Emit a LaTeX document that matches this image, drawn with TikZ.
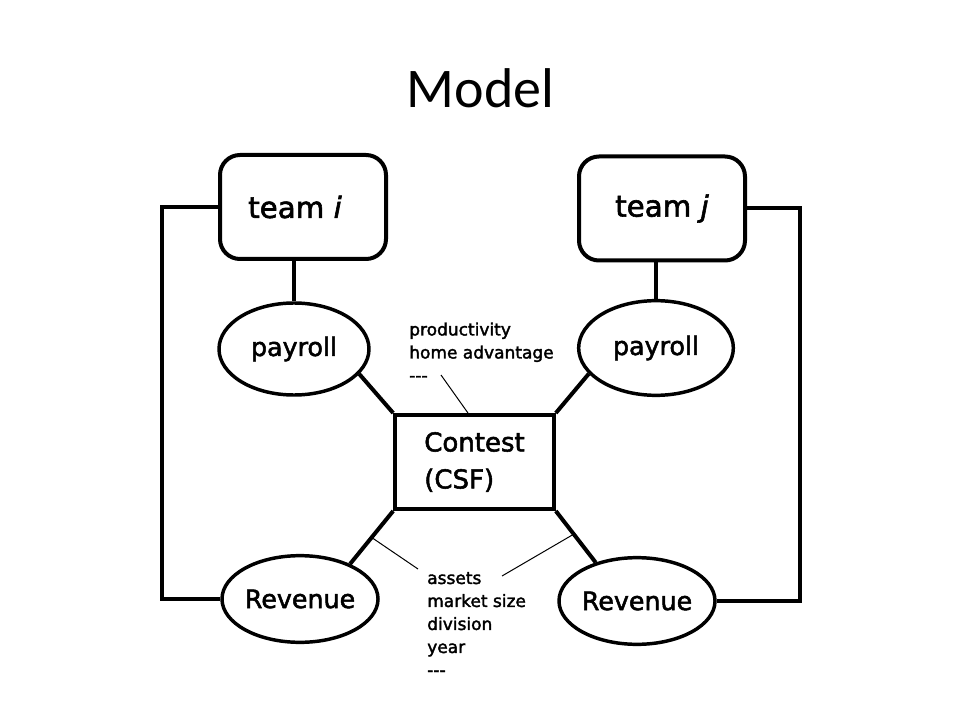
\documentclass[tikz,border=0pt]{standalone}
\usepackage{fontspec}
\setmainfont{DejaVu Sans}[FakeBold=2]
\newfontfamily\titlefont{Carlito}
\usetikzlibrary{shapes.geometric,calc}
\begin{document}
\begin{tikzpicture}[x=0.75pt,y=-0.75pt,
  thickline/.style={line width=3pt},
  teambox/.style={draw,line width=3pt,rounded corners=15pt,minimum width=124.5pt,minimum height=78pt,inner sep=0pt,font=\fontsize{22}{26}\selectfont},
  oval/.style={draw,ellipse,line width=2.6pt,inner sep=0pt,font=\fontsize{19}{23}\selectfont},
  csfbox/.style={draw,rectangle,line width=3pt,minimum width=119pt,minimum height=70.5pt,inner sep=0pt,align=left,font=\fontsize{19.5}{27.75}\selectfont},
  note/.style={align=left,inner sep=0pt,anchor=west,font=\fontsize{12.75}{17.25}\selectfont},
  pointer/.style={line width=0.75pt}]
\useasboundingbox[fill=white] (0,0) rectangle (960,720);

\node[font=\titlefont\fontsize{42}{50}\selectfont,anchor=base,inner sep=0pt] (title) at (480.5,108) {Model};

\node[teambox] (teami) at (303,207) {team \textit{i}\kern12pt};
\node[teambox] (teamj) at (662,208.5) {team \textit{j}};

\node[oval,minimum width=112.5pt,minimum height=69pt] (payL) at (294,349) {payroll};
\node[oval,minimum width=116pt,minimum height=71pt] (payR) at (656,348) {payroll};
\node[oval,minimum width=114pt,minimum height=65pt] (revL) at (300,599) {Revenue};
\node[oval,minimum width=114pt,minimum height=65pt] (revR) at (637,601) {Revenue};

\node[csfbox] (csf) at (474.5,462) {Contest\\(CSF)};

\node[note] (topnote) at (409,352) {productivity\\home advantage\\{-}{-}{-}};
\node[note] (botnote) at (427,624) {assets\\market size\\division\\year\\{-}{-}{-}};

% thick connectors
\draw[thickline] (teami.west) -- ++(-56,0) |- (revL.west);
\draw[thickline] (teamj.east) -- ++(53,0) |- (revR.east);
\draw[thickline] (payL.north |- teami.south) -- (payL.north);
\draw[thickline] (payR.north |- teamj.south) -- (payR.north);
\draw[thickline] (payL.-21) -- (csf.north west);
\draw[thickline] (payR.-159) -- (csf.north east);
\draw[thickline] (revL.35) -- (csf.south west);
\draw[thickline] (revR.137) -- (csf.south east);

% thin pointers
\coordinate (ptop) at (441,375);
\coordinate (pbl) at (418,569);
\coordinate (pbr) at (502,576);
\draw[pointer] ([xshift=-4.9pt]csf.north) -- (ptop);
\draw[pointer] ($(csf.south west)!0.5!(revL.35)$) -- (pbl);
\draw[pointer] ($(csf.south east)!0.45!(revR.137)$) -- (pbr);
\end{tikzpicture}
\end{document}
